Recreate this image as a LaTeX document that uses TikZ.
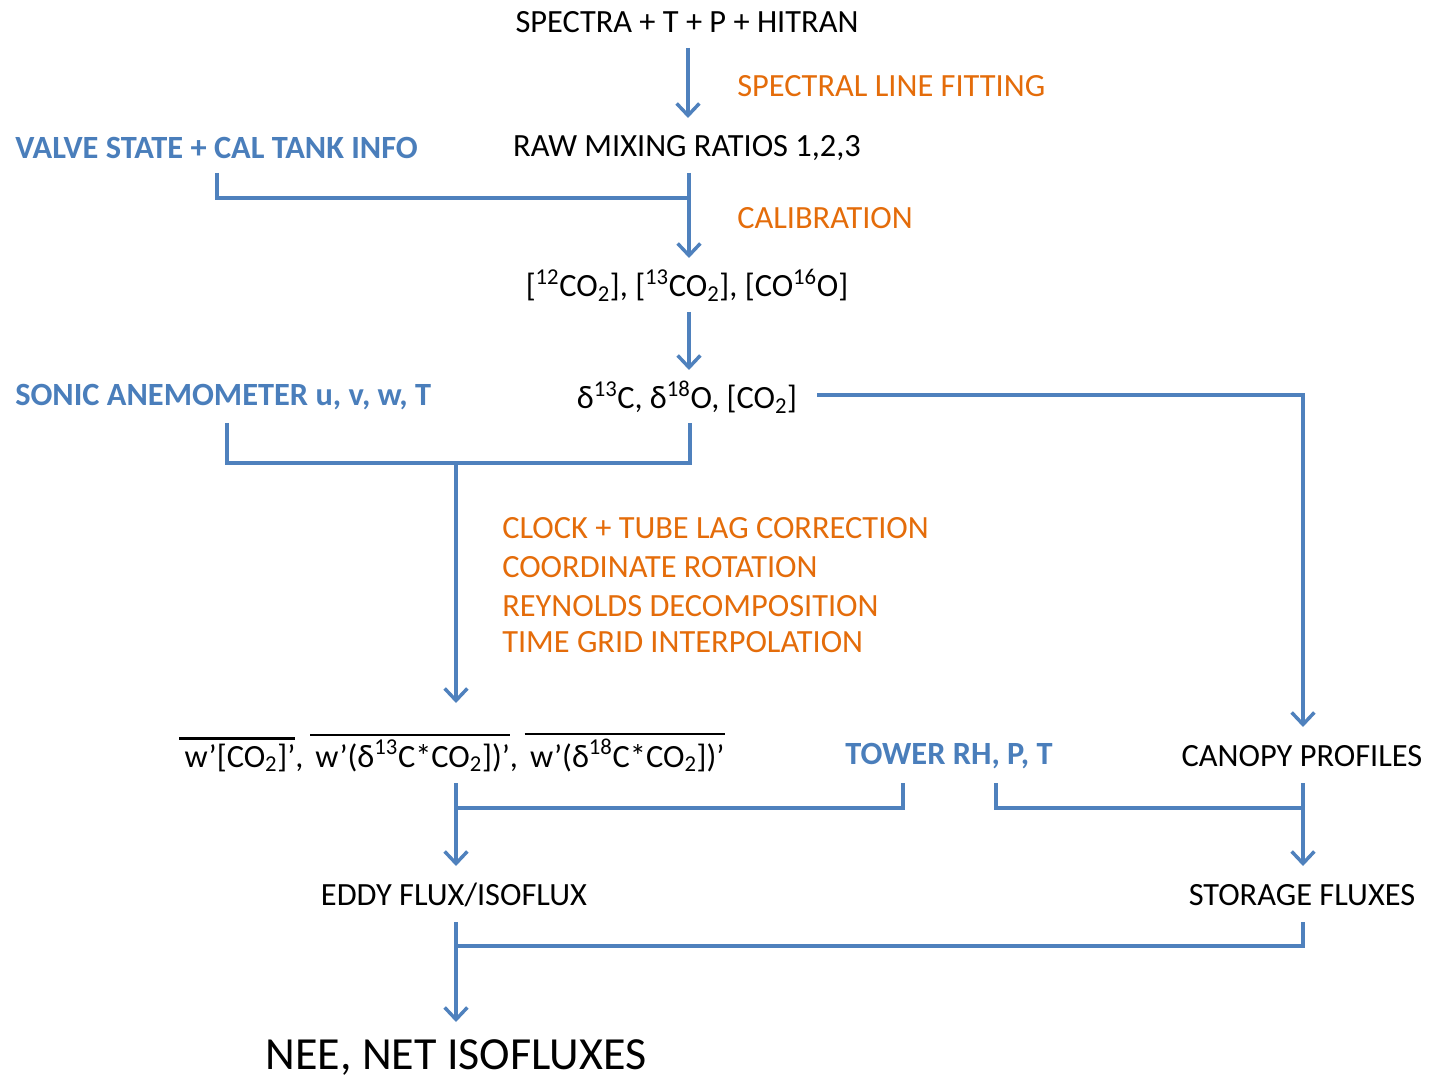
\documentclass[tikz,border=0pt]{standalone}
\usepackage{fontspec}
\setmainfont{Carlito}
\usetikzlibrary{arrows.meta}
\definecolor{lblue}{HTML}{4F81BD}
\definecolor{tblue}{HTML}{4A7EBB}
\definecolor{orng}{HTML}{E46C0A}
\newcommand\ovbar[1]{\leavevmode\vbox{\hrule height 1.8pt\kern 3pt\hbox{\kern4pt#1\kern0pt}}}
\newcommand\sbs[1]{\textsubscript{#1}}
\newcommand\sps[1]{\textsuperscript{#1}}
\begin{document}
\begin{tikzpicture}[x=0.75pt,y=-0.75pt,
  txt/.style={inner sep=0pt,font=\fontsize{24.3}{27}\selectfont,text=black},
  bluetxt/.style={txt,text=tblue,font=\fontsize{24.3}{27}\selectfont\bfseries},
  orgtxt/.style={txt,text=orng,anchor=west},
  conn/.style={draw=lblue,line width=3pt,line join=miter},
  arr/.style={conn,-{Straight Barb[length=9pt,width=17pt,line width=2.6pt]}}]
\useasboundingbox (0,0) rectangle (1429,1080);
% nodes
\node[txt] (spec) at (687,22) {SPECTRA + T + P + HITRAN};
\node[orgtxt] (slf) at (737,86) {SPECTRAL LINE FITTING};
\node[txt] (raw) at (687,148) {RAW MIXING RATIOS 1,2,3};
\node[bluetxt,anchor=west] (valve) at (15,148) {VALVE STATE + CAL TANK INFO};
\node[orgtxt] (cal) at (737,218) {CALIBRATION};
\node[txt] (conc) at (687,285) {[\sps{12}CO\sbs{2}], [\sps{13}CO\sbs{2}], [CO\sps{16}O]};
\node[txt] (delta) at (687,397) {δ\sps{13}C, δ\sps{18}O, [CO\sbs{2}]};
\node[bluetxt,anchor=west] (sonic) at (15,397) {SONIC ANEMOMETER u, v, w, T};
\node[orgtxt] (o1) at (502,528) {CLOCK + TUBE LAG CORRECTION};
\node[orgtxt] (o2) at (502,567) {COORDINATE ROTATION};
\node[orgtxt] (o3) at (502,606) {REYNOLDS DECOMPOSITION};
\node[orgtxt] (o4) at (502,642) {TIME GRID INTERPOLATION};
\node[txt,anchor=base west] (wterm) at (179,767) {\ovbar{w’[CO\sbs{2}]’},\hspace{5pt}\ovbar{w’(δ\sps{13}C*CO\sbs{2}])’},\hspace{5pt}\ovbar{w’(δ\sps{18}C*CO\sbs{2}])’}};
\node[bluetxt] (tower) at (949,756) {TOWER RH, P, T};
\node[txt] (canopy) at (1302,756) {CANOPY PROFILES};
\node[txt] (eddy) at (454,895) {EDDY FLUX/ISOFLUX};
\node[txt] (stor) at (1302,895) {STORAGE FLUXES};
\node[txt,font=\fontsize{34.5}{38}\selectfont] (nee) at (456,1058) {NEE, NET ISOFLUXES};
% coordinates
\coordinate (a1s) at (688,48); \coordinate (a1e) at (688,118);
\coordinate (v0) at (217,173); \coordinate (r0) at (689,173); \coordinate (r1) at (689,258);
\coordinate (c0) at (689,312); \coordinate (c1) at (689,370);
\coordinate (s0) at (227,423); \coordinate (d0) at (690,423);
\coordinate (j1) at (456,463); \coordinate (j1e) at (456,703);
\coordinate (dr) at (817,395); \coordinate (cr) at (1303,727);
\coordinate (w0) at (456,783); \coordinate (w1) at (456,866);
\coordinate (t0) at (903,783); \coordinate (t1) at (996,783);
\coordinate (p0) at (1303,783); \coordinate (p1) at (1303,866);
\coordinate (e0) at (456,922); \coordinate (e1) at (456,1022);
\coordinate (st0) at (1303,922);
% connectors
\draw[arr] (a1s) -- (a1e);
\draw[conn] (v0) |- (689,198);
\draw[arr] (r0) -- (r1);
\draw[arr] (c0) -- (c1);
\draw[conn] (s0) |- (j1 -| d0) -- (d0);
\draw[arr] (j1) -- (j1e);
\draw[arr] (dr) -| (cr);
\draw[arr] (w0) -- (w1);
\draw[conn] (t0) |- (456,808);
\draw[conn] (t1) |- (1303,808);
\draw[arr] (p0) -- (p1);
\draw[arr] (e0) -- (e1);
\draw[conn] (st0) |- (456,946);
\end{tikzpicture}
\end{document}
